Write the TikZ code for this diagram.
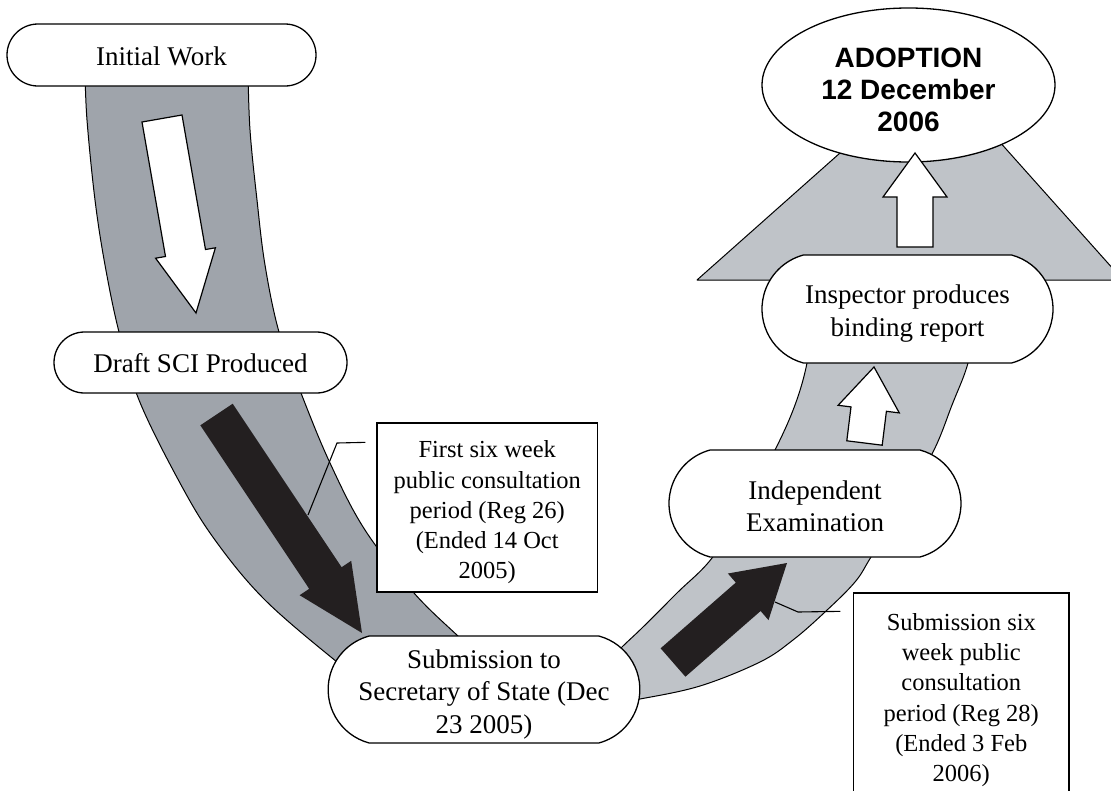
\documentclass[tikz,border=0pt]{standalone}
\usepackage{fontspec}
\setmainfont{Liberation Serif}
\newfontfamily\headfont{Liberation Sans}
\usetikzlibrary{shapes.misc,shapes.geometric,calc}
\definecolor{bandDark}{HTML}{9FA4AB}
\definecolor{bandLight}{HTML}{BFC3C8}
\definecolor{inkBlack}{HTML}{231F20}
% strut that lowers a multi-line label inside its frame
\newcommand{\dropline}[1]{\rule{0pt}{#1}}
\begin{document}
\begin{tikzpicture}[x=1pt,y=-1pt,
  band/.style={draw=black,line width=1pt,line join=round},
  pill/.style={rounded rectangle, rounded rectangle arc length=150, draw=black,
    fill=white, line width=1.3pt, inner sep=0pt, align=center,
    font=\fontsize{27}{32.5}\selectfont},
  slimpill/.style={pill, rounded rectangle arc length=180},
  notebox/.style={rectangle, draw=black, fill=white, line width=1.3pt,
    inner sep=0pt, align=center, font=\fontsize{24.5}{30.3}\selectfont},
  hollowarrow/.style={draw=black, fill=white, line width=1.2pt, line join=miter},
  solidarrow/.style={fill=inkBlack},
  callout/.style={draw=black, line width=1.1pt}
]
\useasboundingbox (0,0) rectangle (1111,790);

% descending band: Initial Work -> Submission
\draw[band, fill=bandDark]
  plot[smooth, tension=0.6] coordinates {(85,70) (87,120) (95,200) (105,265) (119,332)
    (139,400) (180,483) (215,540) (265,600) (337,662) (360,678)}
  -- plot[smooth, tension=0.6] coordinates {(475,652) (459,637) (414,593) (365,530)
    (330,463) (301,393) (279,332) (265,265) (257,200) (250,130) (248,70)}
  -- cycle;

% rising band: Submission -> Inspector
\draw[band, fill=bandLight]
  plot[smooth, tension=0.6] coordinates {(602,668) (622,647) (642,628) (677,593) (712,558)
    (745,505) (775,450) (795,405) (807,363) (812,320)}
  -- plot[smooth, tension=0.6] coordinates {(975,320) (968,363) (952,405) (934,450)
    (903,505) (871,557) (855,582) (825,612) (793,640) (760,662) (700,686) (640,699) (612,703)}
  -- cycle;

% arrow head towards adoption
\draw[band, fill=bandLight] (697,280) -- (934.6,69) -- (1123,280) -- cycle;

% flow arrows on the bands
\draw[hollowarrow] (142,122) -- (182,115) -- (205.5,249.5) -- (215.4,247.8) -- (196,313)
  -- (155.6,258.2) -- (165.5,256.5) -- cycle;
\fill[solidarrow] (200.3,425.3) -- (232.7,403.7) -- (341.6,567.2) -- (351.2,560.8)
  -- (362,633) -- (299.6,595.2) -- (309.2,588.8) -- cycle;
\fill[solidarrow] (660.6,648.3) -- (735.8,582.6) -- (727.9,573.5) -- (787,563)
  -- (768.5,620.1) -- (760.6,611) -- (685.4,676.7) -- cycle;
\draw[hollowarrow] (846.8,440.8) -- (851,406.9) -- (838.1,405.3) -- (874,367)
  -- (899.3,412.9) -- (886.4,411.3) -- (882.2,445.2) -- cycle;

% stages
\node[slimpill, minimum width=309, minimum height=62] (iw) at (161.5,55)
  {\dropline{22pt}Initial Work};
\node[slimpill, minimum width=293, minimum height=61] (ds) at (200.5,362.5)
  {\dropline{21pt}Draft SCI Produced};
\node[pill, minimum width=306, minimum height=107] (sub) at (484,689.5)
  {\dropline{28pt}Submission to\\Secretary of State (Dec\\23 2005)};
\node[pill, minimum width=292, minimum height=107] (ie) at (815,503.5)
  {\dropline{24pt}Independent\\Examination};
\node[pill, minimum width=291, minimum height=108] (ip) at (907.5,309)
  {\dropline{28pt}Inspector produces\\binding report};
\node[ellipse, draw=black, fill=white, line width=1.3pt, inner sep=0pt,
  minimum width=293, minimum height=154, align=center,
  font=\headfont\bfseries\fontsize{28}{32}\selectfont] (ad) at (908.5,85)
  {\dropline{30pt}ADOPTION\\12 December\\2006};

% final step arrow into the adoption ellipse
\draw[hollowarrow] (897,247) -- (897,197) -- (883,197) -- (915,153) -- (947,197)
  -- (933,197) -- (933,247) -- cycle;

% consultation notes and their leaders
\node[notebox, minimum width=220.5, minimum height=169] (c1) at (487.25,507.5)
  {\dropline{27pt}First six week\\public consultation\\period (Reg 26)\\(Ended 14 Oct\\2005)};
\node[notebox, minimum width=215.4, minimum height=214] (c2) at (961.3,700)
  {Submission six\\week public\\consultation\\period (Reg 28)\\(Ended 3 Feb\\2006)};

\coordinate (c1knee) at (337,443);
\coordinate (c1end) at (308,515);
\coordinate (c2knee) at (798,612);
\coordinate (c2end) at (775,602);
\draw[callout] ($(c1.north west)+(-11,20)$) -- (c1knee) -- (c1end);
\draw[callout] ($(c2.north west)+(-12.6,19)$) -- (c2knee) -- (c2end);
\end{tikzpicture}
\end{document}
